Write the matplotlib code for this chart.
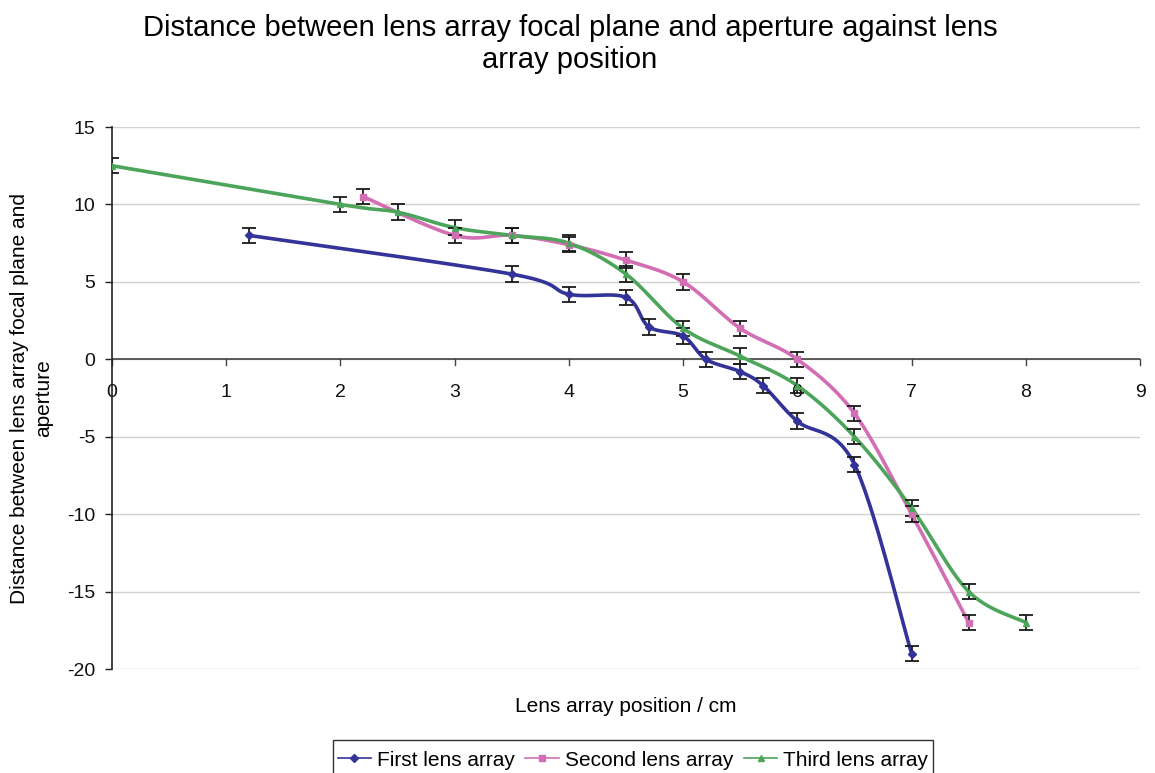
import numpy as np
import matplotlib
matplotlib.use("Agg")
import matplotlib.pyplot as plt
from matplotlib.patches import Rectangle

plt.rcParams['font.family'] = ['Liberation Sans', 'DejaVu Sans']
plt.rcParams['axes.unicode_minus'] = False

# Data
first_x = [1.2, 3.5, 4.0, 4.5, 4.7, 5.0, 5.2, 5.5, 5.7, 6.0, 6.5, 7.0]
first_y = [8.0, 5.5, 4.2, 4.0, 2.1, 1.5, 0.0, -0.8, -1.7, -4.0, -6.8, -19.0]
second_x = [2.2, 3.0, 3.5, 4.0, 4.5, 5.0, 5.5, 6.0, 6.5, 7.0, 7.5]
second_y = [10.5, 8.0, 8.0, 7.4, 6.4, 5.0, 2.0, 0.0, -3.5, -10.0, -17.0]
third_x = [0.0, 2.0, 2.5, 3.0, 3.5, 4.0, 4.5, 5.0, 5.5, 6.0, 6.5, 7.0, 7.5, 8.0]
third_y = [12.5, 10.0, 9.5, 8.5, 8.0, 7.5, 5.5, 2.0, 0.2, -1.7, -5.0, -9.6, -15.0, -17.0]
err = 0.5
series_names = ["First lens array", "Second lens array", "Third lens array"]
colors = ["#333399", "#D36EB4", "#4CA55A"]
markers = ["D", "s", "^"]
x_tick_labels = [str(v) for v in range(0, 10)]

W, H = 1155, 773
fig = plt.figure(figsize=(W / 100, H / 100), dpi=100)
ax = fig.add_axes([112 / W, 1 - 669 / H, (1140 - 112) / W, (669 - 127) / H])
xmin, xmax, ymin, ymax = 0, 9, -20, 15
ax.set_xlim(xmin, xmax)
ax.set_ylim(ymin, ymax)

axw = 1140 - 112
axh = 669 - 127
sx = axw / (xmax - xmin)
sy = axh / (ymax - ymin)


def smooth(xs, ys, n=30):
    P = np.column_stack([np.array(xs) * sx, np.array(ys) * sy])
    out = [P[0]]
    for i in range(len(P) - 1):
        p0 = P[i - 1] if i > 0 else P[i]
        p1 = P[i]
        p2 = P[i + 1]
        p3 = P[i + 2] if i + 2 < len(P) else P[i + 1]
        c1 = p1 + (p2 - p0) / 6.0
        c2 = p2 - (p3 - p1) / 6.0
        t = np.linspace(0, 1, n)[1:, None]
        seg = ((1 - t) ** 3) * p1 + 3 * ((1 - t) ** 2) * t * c1 + 3 * (1 - t) * t ** 2 * c2 + t ** 3 * p2
        out.extend(seg)
    out = np.array(out)
    return out[:, 0] / sx, out[:, 1] / sy


for xs, ys, c, m, name in zip([first_x, second_x, third_x], [first_y, second_y, third_y],
                              colors, markers, series_names):
    cx, cy = smooth(xs, ys)
    ax.plot(cx, cy, color=c, lw=2.6, zorder=3, solid_capstyle='round')
    ax.errorbar(xs, ys, yerr=err, fmt='none', ecolor='#1a1a1a', elinewidth=1.3,
                capsize=5, capthick=1.3, zorder=4)
    ax.plot(xs, ys, linestyle='none', marker=m, color=c, markersize=4.5, zorder=5)
    ax.plot([], [], color=c, lw=1.2, marker=m, markersize=4, label=name)

# axes styling
for s in ['top', 'right', 'bottom']:
    ax.spines[s].set_visible(False)
ax.spines['left'].set_color('#222222')
ax.spines['left'].set_linewidth(1.2)
ax.axhline(0, color='#444444', lw=1.2, zorder=2)
ax.set_yticks(np.arange(-20, 16, 5))
ax.set_xticks([])
ax.yaxis.grid(True, color='#d4d0cc', lw=1.0)
ax.set_axisbelow(True)
ax.tick_params(axis='y', direction='out', length=5, width=1.0, labelsize=14, colors='#222222', pad=7)
for lab in ax.get_yticklabels():
    lab.set_color('#111111')

# x ticks along the zero line
for xv, lab in zip(range(0, 10), x_tick_labels):
    ax.plot([xv, xv], [0, -6 / sy], color='#444444', lw=1.0, clip_on=False, zorder=2)
    ax.text(xv, -2.15, lab, ha='center', va='center', fontsize=14, color='#111111')

fig.text(570 / W, 1 - 44 / H,
         "Distance between lens array focal plane and aperture against lens\narray position",
         ha='center', va='center', fontsize=21, linespacing=1.22)
fig.text(626 / W, 1 - 706 / H, "Lens array position / cm", ha='center', va='center', fontsize=15)
fig.text(32 / W, 1 - 398 / H, "Distance between lens array focal plane and\naperture",
         ha='center', va='center', rotation=90, fontsize=15, linespacing=1.35)

leg = fig.legend(loc='center', bbox_to_anchor=(633 / W, 1 - 760 / H), ncol=3, fontsize=15,
                 frameon=False, handlelength=1.6, handletextpad=0.3,
                 columnspacing=0.5, borderpad=0.2, borderaxespad=0)
fig.patches.append(Rectangle((333 / W, 1 - 778 / H), (933 - 333) / W, (778 - 740) / H,
                             transform=fig.transFigure, fill=False, edgecolor='#333333',
                             linewidth=1.0, zorder=1))

fig.savefig("out.png", dpi=100)
